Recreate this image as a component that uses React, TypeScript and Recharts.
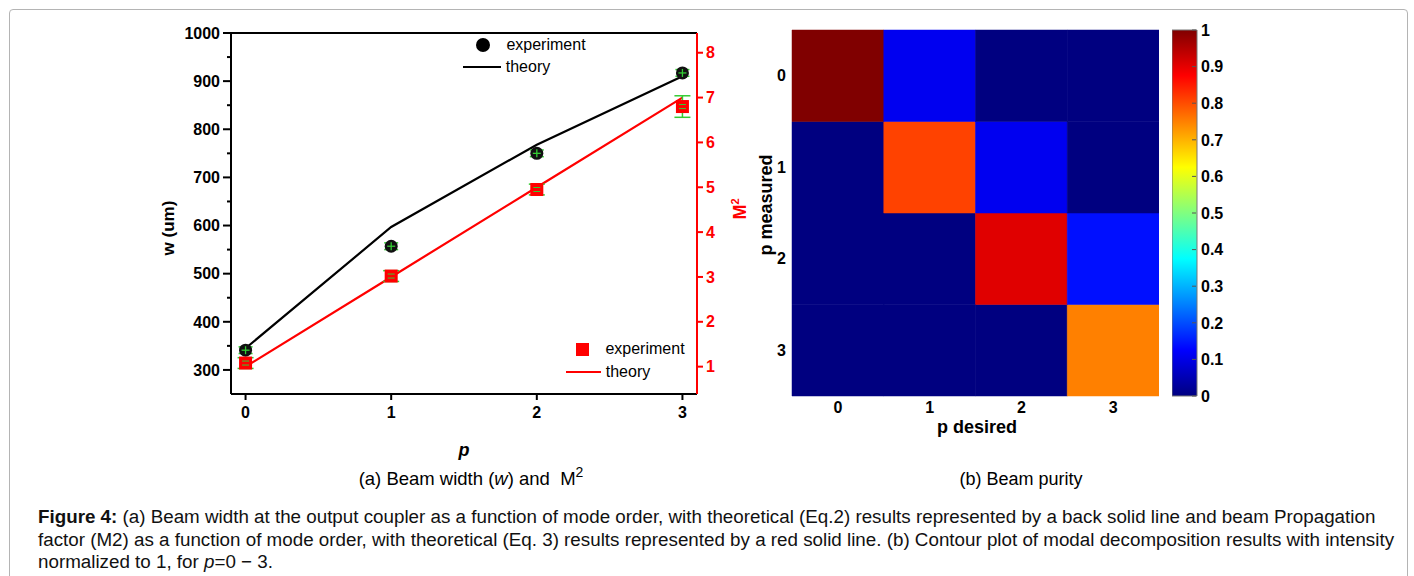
import React from 'react'
import { ComposedChart, BarChart, Bar, Cell, Line, Scatter, XAxis, YAxis, ErrorBar, ReferenceLine } from 'recharts'

// (a) beam width and M2 vs mode order
const pOrder = [0, 1, 2, 3]
const wTheory = [345, 597, 768, 910]
const wExp = [341, 557, 750, 917]
const wErr = [7, 7, 7, 7]
const m2Theory = [1, 3, 5, 7]
const m2Exp = [1.08, 3.02, 4.95, 6.8]
const m2Err = [0.12, 0.12, 0.12, 0.24]
const wTicks = [300, 350, 400, 450, 500, 550, 600, 650, 700, 750, 800, 850, 900, 950, 1000]
const m2Ticks = [1, 2, 3, 4, 5, 6, 7, 8]

// (b) beam purity matrix, purity[measured][desired]
const desired = [0, 1, 2, 3]
const measured = [0, 1, 2, 3]
const purity = [
  [1.0, 0.11, 0, 0],
  [0, 0.81, 0.11, 0],
  [0, 0, 0.905, 0.14],
  [0, 0, 0, 0.75],
]
const colorTicks = [0, 0.1, 0.2, 0.3, 0.4, 0.5, 0.6, 0.7, 0.8, 0.9, 1]

const font = '"Liberation Sans", Arial, sans-serif'
const GREEN = '#33cc33'
const RED = '#ff0000'

const lineData = pOrder.map((p, i) => ({
  p,
  wTh: wTheory[i],
  wExp: wExp[i],
  wErr: wErr[i],
  m2Th: m2Theory[i],
  m2Exp: m2Exp[i],
  m2Err: m2Err[i],
}))

const heatData = desired.map((d) => {
  const row: any = { d }
  measured.forEach((m) => (row['m' + m] = 1))
  return row
})

const clamp = (v: number) => Math.max(0, Math.min(1, v))
function jet(v: number) {
  const r = clamp(1.5 - Math.abs(4 * v - 3))
  const g = clamp(1.5 - Math.abs(4 * v - 2))
  const b = clamp(1.5 - Math.abs(4 * v - 1))
  const h = (c: number) => Math.round(c * 255).toString(16).padStart(2, '0')
  return '#' + h(r) + h(g) + h(b)
}
const jetStops = [0, 0.125, 0.25, 0.375, 0.5, 0.625, 0.75, 0.875, 1]

const boldTick = { fill: '#000', fontSize: 16, fontWeight: 700, fontFamily: font }

const WTick = (props: any) => {
  const { x, y, payload } = props
  const major = payload.value % 100 === 0
  return (
    <g>
      <line x1={x + (major ? 3 : 7)} x2={x + 11} y1={y} y2={y} stroke="#000" strokeWidth={2} />
      {major && (
        <text x={x} y={y} dy="0.36em" textAnchor="end" {...boldTick}>
          {payload.value}
        </text>
      )}
    </g>
  )
}

const ColorTick = (props: any) => {
  const { x, y, payload } = props
  return (
    <g>
      <line x1={x - 9} x2={x - 5} y1={y} y2={y} stroke="#555" strokeWidth={1} />
      <text x={x} y={y} dy="0.36em" textAnchor="start" {...boldTick}>
        {payload.value}
      </text>
    </g>
  )
}

// markers: dark circle / red square with the small green error cross seen in the figure
const Circle = (props: any) => (
  <g>
    <circle cx={props.cx} cy={props.cy} r={6.5} fill="#111" />
    <line x1={props.cx} x2={props.cx} y1={props.cy - 4} y2={props.cy + 4} stroke={GREEN} strokeWidth={1.3} />
    <line x1={props.cx - 4} x2={props.cx + 4} y1={props.cy} y2={props.cy} stroke={GREEN} strokeWidth={1.3} />
  </g>
)
const Square = (props: any) => (
  <g>
    <rect x={props.cx - 6.5} y={props.cy - 6.5} width={13} height={13} fill={RED} />
    <line x1={props.cx - 3.5} x2={props.cx + 3.5} y1={props.cy - 2} y2={props.cy - 2} stroke={GREEN} strokeWidth={1} />
    <line x1={props.cx - 3.5} x2={props.cx + 3.5} y1={props.cy + 2} y2={props.cy + 2} stroke={GREEN} strokeWidth={1} />
  </g>
)
const Nothing = () => <g />

const abs = (left: number, top: number, extra: any = {}): any => ({
  position: 'absolute',
  left,
  top,
  whiteSpace: 'nowrap',
  transform: 'translate(-50%, -50%)',
  ...extra,
})

export default function App() {
  return (
    <div style={{ position: 'relative', width: 1414, height: 576, background: '#fff', fontFamily: font, overflow: 'hidden' }}>
      <style>{'body{margin:0}'}</style>
      <div style={{ position: 'absolute', left: 9, top: 9, width: 1397, height: 600, border: '1px solid #b4b4b4', borderRadius: 4 }} />

      {/* (a) */}
      <div style={{ position: 'absolute', left: 0, top: 0 }}>
        <ComposedChart width={770} height={440} data={lineData} margin={{ top: 33, right: 13, bottom: 16, left: 130 }}>
          <XAxis
            dataKey="p"
            type="number"
            domain={[-0.1, 3.1]}
            ticks={pOrder}
            allowDataOverflow
            height={30}
            tickSize={6}
            tickMargin={7}
            axisLine={{ stroke: '#000', strokeWidth: 2 }}
            tickLine={{ stroke: '#000', strokeWidth: 2 }}
            tick={boldTick}
          />
          <YAxis
            yAxisId="w"
            domain={[250, 1000]}
            ticks={wTicks}
            allowDataOverflow
            width={101}
            tickSize={8}
            tickMargin={3}
            axisLine={{ stroke: '#000', strokeWidth: 2 }}
            tickLine={false}
            tick={<WTick />}
            interval={0}
          />
          <YAxis
            yAxisId="m2"
            orientation="right"
            domain={[0.39, 8.44]}
            ticks={m2Ticks}
            allowDataOverflow
            width={60}
            tickSize={6}
            tickMargin={3}
            axisLine={{ stroke: RED, strokeWidth: 2 }}
            tickLine={{ stroke: RED, strokeWidth: 2 }}
            tick={{ ...boldTick, fill: RED }}
            interval={0}
          />
          <ReferenceLine yAxisId="w" y={1000} stroke="#000" strokeWidth={2} />
          <Line yAxisId="w" dataKey="wTh" type="linear" stroke="#000" strokeWidth={2.2} dot={false} isAnimationActive={false} />
          <Line yAxisId="m2" dataKey="m2Th" type="linear" stroke={RED} strokeWidth={2.2} dot={false} isAnimationActive={false} />
          <Scatter yAxisId="w" dataKey="wExp" shape={<Circle />} isAnimationActive={false} />
          <Scatter yAxisId="m2" dataKey="m2Exp" shape={<Square />} isAnimationActive={false} />
          <Scatter yAxisId="w" dataKey="wExp" shape={<Nothing />} isAnimationActive={false}>
            <ErrorBar dataKey="wErr" direction="y" width={7} stroke={GREEN} strokeWidth={1.5} />
          </Scatter>
          <Scatter yAxisId="m2" dataKey="m2Exp" shape={<Nothing />} isAnimationActive={false}>
            <ErrorBar dataKey="m2Err" direction="y" width={8} stroke={GREEN} strokeWidth={1.5} />
          </Scatter>
        </ComposedChart>
      </div>

      {/* legends (a) */}
      <svg style={{ position: 'absolute', left: 0, top: 0 }} width={740} height={440}>
        <circle cx={483} cy={45} r={7} fill="#000" />
        <line x1={463} x2={501} y1={67} y2={67} stroke="#000" strokeWidth={2.2} />
        <rect x={576} y={343} width={13} height={13} fill={RED} />
        <line x1={566} x2={601} y1={372} y2={372} stroke={RED} strokeWidth={2.2} />
      </svg>
      <div style={abs(546, 45, { fontSize: 16 })}>experiment</div>
      <div style={abs(528, 67, { fontSize: 16 })}>theory</div>
      <div style={abs(645, 349, { fontSize: 16 })}>experiment</div>
      <div style={abs(628, 372, { fontSize: 16 })}>theory</div>

      <div style={abs(169, 228, { fontSize: 17, fontWeight: 700, transform: 'translate(-50%, -50%) rotate(-90deg)' })}>w (um)</div>
      <div style={abs(740, 209, { fontSize: 18, fontWeight: 700, color: RED, transform: 'translate(-50%, -50%) rotate(-90deg)' })}>
        M<sup style={{ fontSize: 11 }}>2</sup>
      </div>
      <div style={abs(464, 450, { fontSize: 18, fontWeight: 700, fontStyle: 'italic' })}>p</div>
      <div style={abs(471, 477, { fontSize: 18.5 })}>
        (a) Beam width (<i>w</i>) and&nbsp; M<sup style={{ fontSize: 14 }}>2</sup>
      </div>

      {/* (b) */}
      <div style={{ position: 'absolute', left: 740, top: 0 }}>
        <BarChart width={419} height={426} data={heatData} margin={{ top: 30, right: 0, bottom: 0, left: 0 }} barCategoryGap={0} barGap={0}>
          <XAxis
            dataKey="d"
            height={30}
            tickSize={2}
            tickMargin={4}
            axisLine={false}
            tickLine={false}
            tick={boldTick}
          />
          <YAxis
            type="number"
            domain={[0, 4]}
            ticks={[0.5, 1.5, 2.5, 3.5]}
            tickFormatter={(v: number) => String(Math.round(3.5 - v))}
            width={52}
            tickSize={2}
            tickMargin={4}
            axisLine={false}
            tickLine={false}
            tick={boldTick}
          />
          {[...measured].reverse().map((m) => (
            <Bar key={m} dataKey={'m' + m} stackId="a" isAnimationActive={false}>
              {desired.map((d, c) => (
                <Cell key={d} fill={jet(purity[m][c])} stroke={jet(purity[m][c])} strokeWidth={0.5} />
              ))}
            </Bar>
          ))}
        </BarChart>
      </div>

      {/* colorbar */}
      <div style={{ position: 'absolute', left: 1172, top: 0 }}>
        <ComposedChart width={70} height={426} data={[{ k: 'c', v: 1 }]} margin={{ top: 30, right: 0, bottom: 30, left: 0 }} barCategoryGap={0}>
          <defs>
            <linearGradient id="jet" x1="0" y1="1" x2="0" y2="0">
              {jetStops.map((s) => (
                <stop key={s} offset={s} stopColor={jet(s)} />
              ))}
            </linearGradient>
          </defs>
          <XAxis dataKey="k" hide />
          <YAxis
            orientation="right"
            domain={[0, 1]}
            ticks={colorTicks}
            width={45}
            tickSize={0}
            tickMargin={4}
            axisLine={false}
            tickLine={false}
            tick={<ColorTick />}
            interval={0}
          />
          <Bar dataKey="v" fill="url(#jet)" stroke="#777" strokeWidth={1} isAnimationActive={false} />
        </ComposedChart>
      </div>

      <div style={abs(766, 205, { fontSize: 18, fontWeight: 700, transform: 'translate(-50%, -50%) rotate(-90deg)' })}>p measured</div>
      <div style={abs(977, 427, { fontSize: 18, fontWeight: 700 })}>p desired</div>
      <div style={abs(1021, 479, { fontSize: 18 })}>(b) Beam purity</div>

      {/* figure caption */}
      <div style={{ position: 'absolute', left: 38, top: 506, fontSize: 18.8, lineHeight: '22.5px', whiteSpace: 'nowrap', color: '#111' }}>
        <b>Figure 4:</b> (a) Beam width at the output coupler as a function of mode order, with theoretical (Eq.2) results represented by a back solid line and beam Propagation
        <br />
        factor (M2) as a function of mode order, with theoretical (Eq. 3) results represented by a red solid line. (b) Contour plot of modal decomposition results with intensity
        <br />
        normalized to 1, for <i>p</i>=0 − 3.
      </div>
    </div>
  )
}
